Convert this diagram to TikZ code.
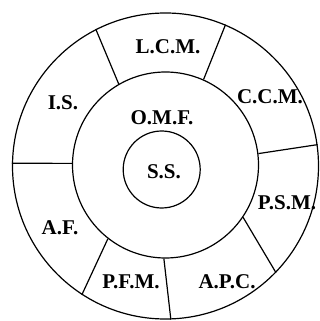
\documentclass[tikz,border=0pt]{standalone}
\usepackage{fontspec}
\setmainfont{Liberation Serif}
\begin{document}
\begin{tikzpicture}[x=1pt,y=1pt,
  ring/.style={circle,draw,line width=1.2pt,inner sep=0pt},
  divider/.style={line width=1.2pt},
  lab/.style={font=\fontsize{21}{24}\bfseries\selectfont,inner sep=0pt}]
\useasboundingbox (0,0) rectangle (320,321);
\node[ring,minimum size=306pt] (outer) at (165.5,155) {};
\node[ring,minimum size=186pt] (mid) at (165.5,156) {};
\node[ring,minimum size=77pt] (inner) at (161.7,151.5) {};
\draw[divider] (mid.120.1) -- (outer.117.1);
\draw[divider] (mid.66.4) -- (outer.67.7);
\draw[divider] (mid.7.2) -- (outer.8.6);
\draw[divider] (mid.-34.4) -- (outer.-44.1);
\draw[divider] (mid.-91.5) -- (outer.-88.3);
\draw[divider] (mid.-128.7) -- (outer.-123.8);
\draw[divider] (mid.179.4) -- (outer.179.3);
\node[lab] (lcm) at (168,274) {L.C.M.};
\node[lab] (ccm) at (270,224) {C.C.M.};
\node[lab] (is) at (63,218) {I.S.};
\node[lab] (omf) at (162,203) {O.M.F.};
\node[lab] (ss) at (164,149) {S.S.};
\node[lab] (psm) at (287,118) {P.S.M.};
\node[lab] (af) at (60,93) {A.F.};
\node[lab] (pfm) at (131,39) {P.F.M.};
\node[lab] (apc) at (227,39) {A.P.C.};
\end{tikzpicture}
\end{document}
